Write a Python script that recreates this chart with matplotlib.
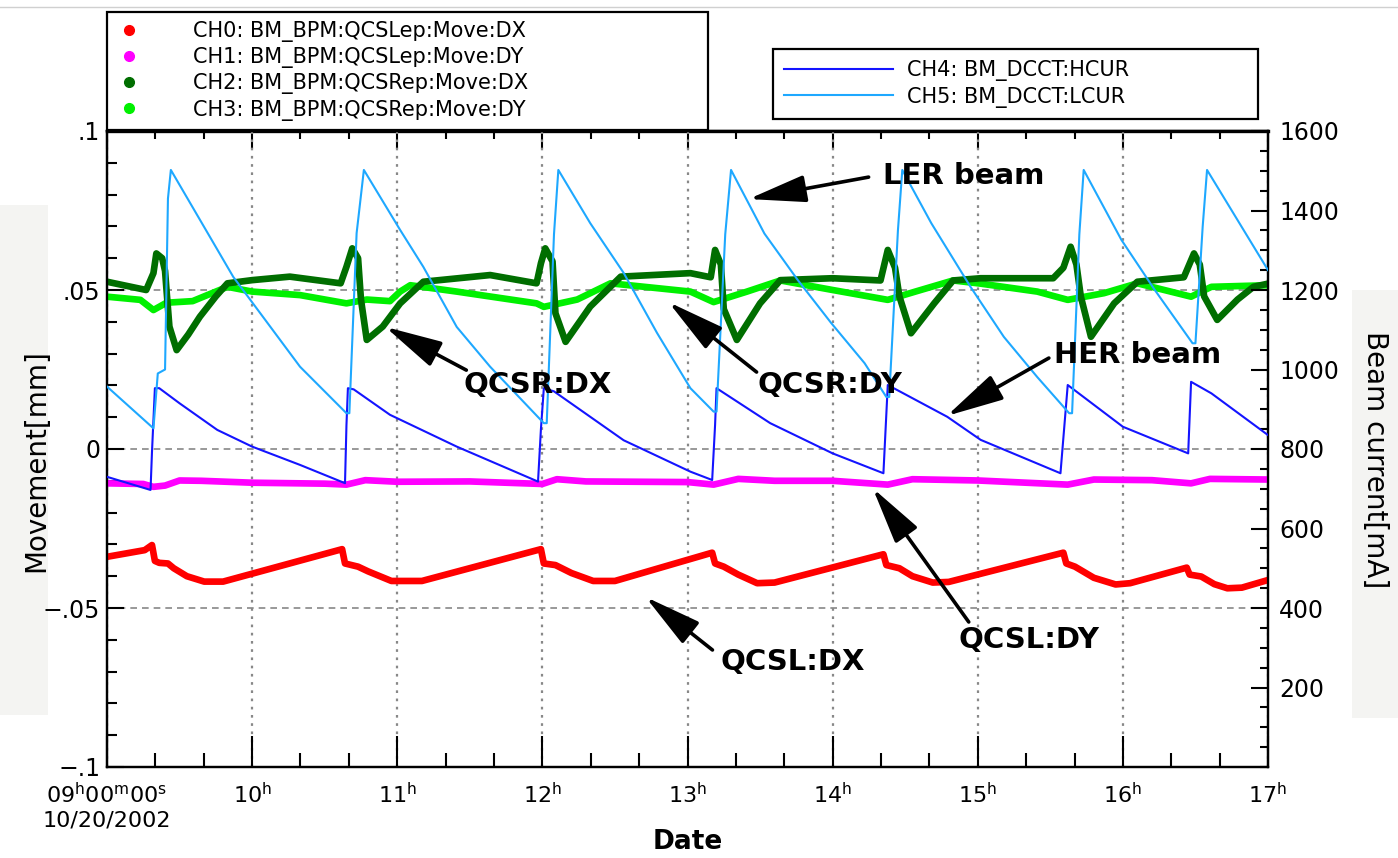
import matplotlib
matplotlib.use('Agg')
import matplotlib.pyplot as plt
from matplotlib.lines import Line2D
from matplotlib.patches import Rectangle
from matplotlib.ticker import MultipleLocator

plt.rcParams['font.family'] = ['DejaVu Sans']

# ---------------- data (time in hours of 10/20/2002) ----------------
ch0_t = [9.00, 9.26, 9.31, 9.33, 9.36, 9.42, 9.46, 9.55, 9.67, 9.80,
         10.62, 10.64, 10.73, 10.80, 10.96, 11.17,
         11.99, 12.01, 12.09, 12.20, 12.35, 12.50,
         13.17, 13.19, 13.25, 13.35, 13.48, 13.60,
         14.35, 14.37, 14.46, 14.55, 14.69, 14.80,
         15.59, 15.61, 15.67, 15.80, 15.95, 16.05,
         16.44, 16.46, 16.54, 16.63, 16.72, 16.82, 17.00]
ch0_v = [-0.0339, -0.0318, -0.0302, -0.0352, -0.0358, -0.0360, -0.0375, -0.0400, -0.0417, -0.0417,
         -0.0315, -0.0360, -0.0370, -0.0385, -0.0415, -0.0415,
         -0.0315, -0.0360, -0.0365, -0.0390, -0.0415, -0.0415,
         -0.0326, -0.0360, -0.0370, -0.0395, -0.0422, -0.0420,
         -0.0331, -0.0365, -0.0375, -0.0400, -0.0420, -0.0418,
         -0.0326, -0.0360, -0.0370, -0.0405, -0.0426, -0.0422,
         -0.0373, -0.0395, -0.0401, -0.0425, -0.0438, -0.0436, -0.0412]

ch1_t = [9.00, 9.25, 9.32, 9.40, 9.50, 9.65, 10.00, 10.50, 10.65, 10.78, 11.00, 11.50,
         12.00, 12.10, 12.30, 13.00, 13.18, 13.35, 13.60, 14.00, 14.38, 14.55, 15.00,
         15.62, 15.80, 16.20, 16.47, 16.60, 17.00]
ch1_v = [-0.0108, -0.0110, -0.0119, -0.0115, -0.0099, -0.0100, -0.0106, -0.0109, -0.0112, -0.0098,
         -0.0103, -0.0102, -0.0110, -0.0095, -0.0102, -0.0104, -0.0112, -0.0094, -0.0100, -0.0100,
         -0.0112, -0.0095, -0.0099, -0.0112, -0.0096, -0.0098, -0.0108, -0.0094, -0.0096]

ch2_t = [9.00, 9.27, 9.32, 9.34, 9.38, 9.40, 9.41, 9.43, 9.48, 9.56, 9.64, 9.75, 9.83, 10.00, 10.26,
         10.61, 10.65, 10.69, 10.73, 10.75, 10.79, 10.90, 11.02, 11.18, 11.64,
         11.96, 11.99, 12.02, 12.07, 12.09, 12.16, 12.33, 12.54, 13.02,
         13.16, 13.19, 13.23, 13.25, 13.34, 13.50, 13.64, 14.00,
         14.33, 14.38, 14.43, 14.46, 14.54, 14.70, 14.83, 15.02, 15.52,
         15.59, 15.64, 15.68, 15.71, 15.78, 15.94, 16.10, 16.42,
         16.49, 16.53, 16.56, 16.65, 16.79, 16.90, 17.00]
ch2_v = [0.0526, 0.0500, 0.0553, 0.0615, 0.0600, 0.0560, 0.0500, 0.0385, 0.0311, 0.0360, 0.0416, 0.0480, 0.0521, 0.0531, 0.0542,
         0.0521, 0.0573, 0.0631, 0.0600, 0.0470, 0.0343, 0.0385, 0.0458, 0.0526, 0.0547,
         0.0521, 0.0584, 0.0631, 0.0590, 0.0427, 0.0337, 0.0448, 0.0542, 0.0553,
         0.0540, 0.0626, 0.0580, 0.0440, 0.0343, 0.0458, 0.0531, 0.0537,
         0.0530, 0.0626, 0.0570, 0.0480, 0.0364, 0.0458, 0.0530, 0.0537, 0.0537,
         0.0570, 0.0636, 0.0580, 0.0480, 0.0353, 0.0458, 0.0526, 0.0540,
         0.0615, 0.0580, 0.0480, 0.0406, 0.0470, 0.0510, 0.0520]

ch3_t = [9.00, 9.23, 9.32, 9.41, 9.59, 9.83, 10.00, 10.33, 10.65, 10.79, 10.95, 11.02, 11.09, 11.41,
         11.96, 12.01, 12.24, 12.47, 13.02, 13.18, 13.41, 13.64, 14.00, 14.38, 14.57, 14.83, 15.02,
         15.41, 15.62, 15.87, 16.10, 16.47, 16.61, 17.00]
ch3_v = [0.0479, 0.0469, 0.0437, 0.0460, 0.0465, 0.0510, 0.0495, 0.0484, 0.0458, 0.0470, 0.0465, 0.0495, 0.0515, 0.0495,
         0.0458, 0.0447, 0.0470, 0.0521, 0.0495, 0.0462, 0.0495, 0.0530, 0.0500, 0.0469, 0.0495, 0.0530, 0.0520,
         0.0495, 0.0469, 0.0490, 0.0521, 0.0479, 0.0510, 0.0515]

ch4_t = [9.00, 9.30, 9.31, 9.33, 9.36, 9.50, 9.76, 10.00, 10.33, 10.64, 10.65, 10.66, 10.70, 10.95,
         11.41, 11.97, 11.99, 12.01, 12.08, 12.56, 13.02, 13.17, 13.19, 13.20, 13.57, 14.00, 14.35,
         14.38, 14.79, 15.02, 15.57, 15.62, 16.00, 16.45, 16.47, 16.61, 17.00]
ch4_v = [730, 697, 793, 953, 953, 915, 848, 806, 760, 714, 860, 953, 950, 886,
         806, 718, 850, 953, 945, 822, 743, 722, 860, 953, 865, 789, 739,
         961, 881, 823, 739, 961, 856, 789, 969, 940, 835]

ch5_t = [9.00, 9.32, 9.35, 9.40, 9.42, 9.44, 9.87, 10.33, 10.65, 10.67, 10.72, 10.77,
         11.02, 11.18, 11.41, 11.64, 12.01, 12.03, 12.08, 12.11, 12.33, 12.56, 12.79, 13.02,
         13.18, 13.20, 13.26, 13.30, 13.53, 13.76, 13.99, 14.22, 14.37, 14.39, 14.45, 14.48,
         14.68, 14.95, 15.18, 15.41, 15.63, 15.65, 15.70, 15.73, 15.99, 16.22, 16.48, 16.50,
         16.55, 16.58, 16.79, 17.00]
ch5_v = [957, 852, 990, 1000, 1430, 1502, 1233, 1007, 890, 890, 1343, 1502,
         1351, 1258, 1107, 1007, 865, 865, 1340, 1502, 1368, 1243, 1092, 953,
         894, 894, 1340, 1502, 1342, 1225, 1117, 1016, 931, 931, 1350, 1502,
         1368, 1208, 1082, 981, 890, 890, 1340, 1502, 1326, 1200, 1066, 1066,
         1360, 1502, 1376, 1250]

series_names = ['CH0: BM_BPM:QCSLep:Move:DX', 'CH1: BM_BPM:QCSLep:Move:DY',
                'CH2: BM_BPM:QCSRep:Move:DX', 'CH3: BM_BPM:QCSRep:Move:DY',
                'CH4: BM_DCCT:HCUR', 'CH5: BM_DCCT:LCUR']
series_colors = ['#ff0000', '#ff00ff', '#006e00', '#00f000', '#1414ff', '#1ea8ff']

x_ticks = [9, 10, 11, 12, 13, 14, 15, 16, 17]
x_tick_labels = ['09$^{\\mathrm{h}}$00$^{\\mathrm{m}}$00$^{\\mathrm{s}}$\n10/20/2002',
                 '10$^{\\mathrm{h}}$', '11$^{\\mathrm{h}}$', '12$^{\\mathrm{h}}$', '13$^{\\mathrm{h}}$',
                 '14$^{\\mathrm{h}}$', '15$^{\\mathrm{h}}$', '16$^{\\mathrm{h}}$', '17$^{\\mathrm{h}}$']
left_ticks = [-0.1, -0.05, 0.0, 0.05, 0.1]
left_tick_labels = ['\u2212.1', '\u2212.05', '0', '.05', '.1']
right_ticks = [200, 400, 600, 800, 1000, 1200, 1400, 1600]
right_tick_labels = ['200', '400', '600', '800', '1000', '1200', '1400', '1600']

# annotations: (text, text pos, arrow tail, arrow head) in (hour, movement) coordinates
annot_text = ['LER beam', 'HER beam', 'QCSR:DX', 'QCSR:DY', 'QCSL:DX', 'QCSL:DY']
annot_text_xy = [(14.345, 0.0858), (15.524, 0.0296), (11.455, 0.0201), (13.483, 0.0201),
                 (13.228, -0.0670), (14.869, -0.0601)]
annot_tail = [(14.248, 0.0855), (15.490, 0.0286), (11.476, 0.0248), (13.476, 0.0242),
              (13.172, -0.0632), (14.938, -0.0544)]
annot_head = [(13.421, 0.0786), (14.786, 0.0104), (10.917, 0.0384), (12.869, 0.0462),
              (12.710, -0.0465), (14.276, -0.0123)]

# ---------------- figure ----------------
W, H = 1398, 858
fig = plt.figure(figsize=(W / 100, H / 100), dpi=100)


def fx(px):
    return px / W


def fy(py):
    return 1 - py / H


# faint backgrounds behind the y labels and thin top line
fig.patches.append(Rectangle((0, fy(715)), fx(48), (715 - 205) / H, transform=fig.transFigure,
                             facecolor='#f4f4f2', edgecolor='none', zorder=-5))
fig.patches.append(Rectangle((fx(1352), fy(718)), fx(W - 1352), (718 - 290) / H, transform=fig.transFigure,
                             facecolor='#f4f4f2', edgecolor='none', zorder=-5))
fig.lines.append(Line2D([0, 1], [fy(7), fy(7)], transform=fig.transFigure, color='#d0d0d0', lw=1, zorder=-5))

ax = fig.add_axes([fx(107), fy(767), fx(1268 - 107), (767 - 131) / H])
ax.set_xlim(9, 17)
ax.set_ylim(-0.1, 0.1)

lw_thick = 4.8
ax.plot(ch0_t, ch0_v, color=series_colors[0], lw=lw_thick, zorder=3)
ax.plot(ch1_t, ch1_v, color=series_colors[1], lw=lw_thick, zorder=3)
ax.plot(ch3_t, ch3_v, color=series_colors[3], lw=lw_thick, zorder=3)
ax.plot(ch2_t, ch2_v, color=series_colors[2], lw=lw_thick, zorder=4)

ax2 = ax.twinx()
ax2.set_ylim(0, 1600)
ax2.plot(ch4_t, ch4_v, color=series_colors[4], lw=1.5, zorder=3)
ax2.plot(ch5_t, ch5_v, color=series_colors[5], lw=1.5, zorder=3)

# grid
ax.set_xticks(x_ticks, x_tick_labels)
ax.set_yticks(left_ticks, left_tick_labels)
ax.xaxis.set_minor_locator(MultipleLocator(1 / 3))
ax.yaxis.set_minor_locator(MultipleLocator(0.01))
ax.grid(True, axis='x', which='major', color='#888888', linestyle=(0, (1.2, 2.5)), lw=1.6)
ax.grid(True, axis='y', which='major', color='#888888', linestyle=(0, (4, 3)), lw=1.2)
ax.set_axisbelow(True)

ax.tick_params(axis='x', which='major', direction='in', length=22, width=1.5, labelsize=16, pad=11, top=False)
ax.tick_params(axis='x', which='minor', direction='in', length=10, width=1.5, top=False)
ax.tick_params(axis='y', which='major', direction='in', length=12, width=1.5, labelsize=17, pad=5, right=False)
ax.tick_params(axis='y', which='minor', direction='in', length=7, width=1.5, right=False)
for lab in ax.get_xticklabels():
    lab.set_multialignment('center')

secx = ax.secondary_xaxis('top')
secx.set_xticks(x_ticks)
secx.xaxis.set_minor_locator(MultipleLocator(1 / 3))
secx.tick_params(axis='x', which='major', direction='in', length=13, width=1.5, labeltop=False)
secx.tick_params(axis='x', which='minor', direction='in', length=6, width=1.5)

ax2.set_yticks(right_ticks, right_tick_labels)
ax2.yaxis.set_minor_locator(MultipleLocator(50))
ax2.tick_params(axis='y', which='major', direction='in', length=12, width=1.5, labelsize=17, pad=8)
ax2.tick_params(axis='y', which='minor', direction='in', length=6, width=1.5)

for a in (ax, ax2):
    for s in a.spines.values():
        s.set_linewidth(1.6)
        s.set_color('black')
secx.spines['top'].set_linewidth(2.4)

# axis labels
ax.set_xlabel('Date', fontsize=19, fontweight='bold')
ax.xaxis.set_label_coords(0.5, (767 - 842) / 636)
ax.xaxis.label.set_va('center')
ax.set_ylabel('Movement[mm]', fontsize=20)
ax.yaxis.set_label_coords((36 - 107) / 1161, (767 - 461) / 636)
ax.yaxis.label.set_va('center')
ax.yaxis.label.set_ha('center')
ax2.set_ylabel('Beam current[mA]', fontsize=20, rotation=270)
ax2.yaxis.set_label_coords((1375 - 107) / 1161, (767 - 460) / 636)
ax2.yaxis.label.set_va('center')
ax2.yaxis.label.set_ha('center')

# annotations (on top of everything)
for s, txy, tail, head in zip(annot_text, annot_text_xy, annot_tail, annot_head):
    ax2.annotate('', xy=head, xytext=tail, xycoords=ax.transData, textcoords=ax.transData,
                 arrowprops=dict(arrowstyle='-|>,head_length=1.6,head_width=0.38', lw=2.6, color='black',
                                 mutation_scale=22, shrinkA=0, shrinkB=0), zorder=10)
    ax2.text(txy[0], txy[1], s, transform=ax.transData, fontsize=21, fontweight='bold',
             ha='left', va='center', zorder=10)

# legends
h1 = [Line2D([], [], ls='none', marker='o', ms=7, color=c) for c in series_colors[:4]]
leg1 = fig.legend(h1, series_names[:4], loc='lower left',
                  bbox_to_anchor=(fx(107), fy(130), fx(708 - 107), (130 - 12) / H),
                  bbox_transform=fig.transFigure, mode='expand', borderaxespad=0, fontsize=15,
                  borderpad=0.45, labelspacing=0.25, handlelength=1.2, handletextpad=2.5,
                  frameon=True, fancybox=False, edgecolor='black', framealpha=1)
leg1.get_frame().set_linewidth(1.6)

h2 = [Line2D([], [], color=c, lw=1.5) for c in series_colors[4:]]
leg2 = fig.legend(h2, series_names[4:], loc='lower left',
                  bbox_to_anchor=(fx(773), fy(119), fx(1258 - 773), (119 - 48) / H),
                  bbox_transform=fig.transFigure, mode='expand', borderaxespad=0, fontsize=15,
                  borderpad=0.55, labelspacing=0.25, handlelength=5.2, handletextpad=0.7,
                  frameon=True, fancybox=False, edgecolor='black', framealpha=1)
leg2.get_frame().set_linewidth(1.6)

fig.savefig('out.png', dpi=100)
